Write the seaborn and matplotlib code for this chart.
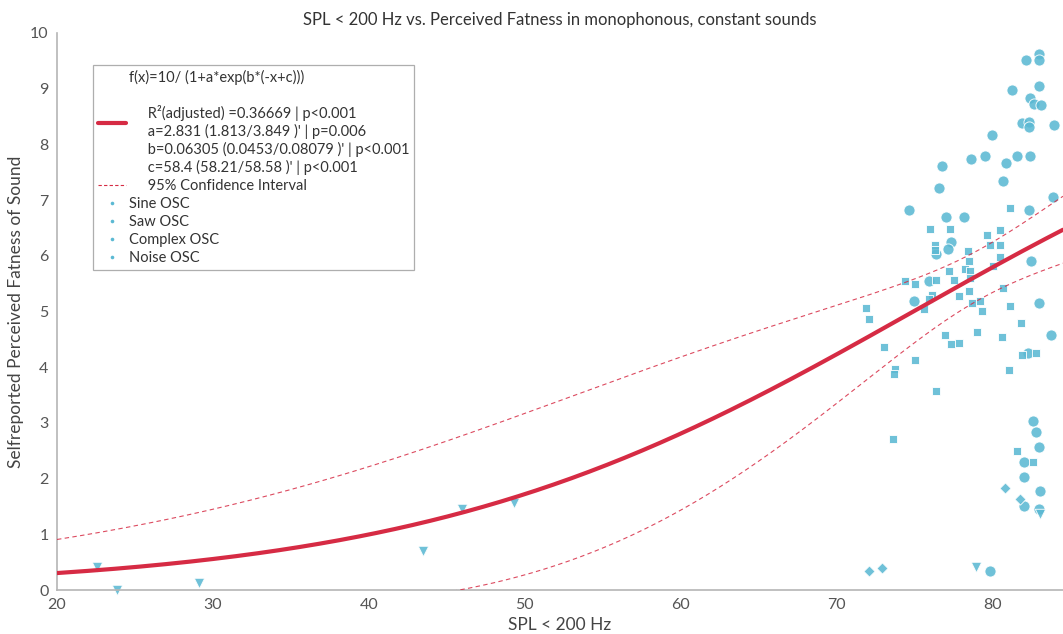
import numpy as np
import pandas as pd
import matplotlib
matplotlib.use("Agg")
import matplotlib.pyplot as plt
from matplotlib.lines import Line2D
import seaborn as sns

# Logistic fit  f(x) = 10 / (1 + a*exp(b*(-x + c)))
fit_a = 2.831
fit_b = 0.06305
fit_c = 58.4
# Standard error of the linear predictor u = ln(a) + b*(c - x),
# se_u(x) = sqrt(se_u_min^2 + (se_u_slope * (x - se_u_center))^2)
se_u_min = 0.093
se_u_slope = 0.0176
se_u_center = 79.0
t_crit = 1.96

# Measurements: SPL below 200 Hz (dB) and self-reported fatness
sine_spl = [82.95, 82.95, 82.12, 82.95, 81.20, 82.40, 82.63, 83.12, 81.88, 82.35,
            82.35, 83.90, 79.96, 76.75, 78.59, 79.49, 80.83, 81.56, 82.37, 80.68,
            76.52, 83.87, 74.64, 77.00, 78.16, 82.35, 77.29, 77.10, 76.35, 82.44,
            75.90, 74.96, 82.97, 83.72, 82.26, 82.55, 82.78, 82.95, 82.00, 82.00,
            83.05, 82.00, 82.97, 79.79]
sine_fat = [9.62, 9.52, 9.51, 9.05, 8.97, 8.84, 8.73, 8.70, 8.38, 8.40,
            8.32, 8.35, 8.17, 7.62, 7.73, 7.79, 7.67, 7.79, 7.79, 7.35,
            7.21, 7.06, 6.82, 6.70, 6.70, 6.83, 6.25, 6.12, 6.03, 5.90,
            5.55, 5.19, 5.16, 4.57, 4.25, 3.03, 2.84, 2.57, 2.29, 2.02,
            1.77, 1.50, 1.45, 0.34]

saw_spl = [81.11, 75.96, 77.24, 79.63, 80.49, 79.79, 80.49, 80.49, 76.28, 76.28,
           78.44, 78.46, 79.98, 77.18, 78.21, 78.53, 78.53, 74.38, 75.02, 76.35,
           77.52, 80.66, 76.13, 75.90, 77.84, 78.46, 78.68, 79.15, 75.60, 71.88,
           72.03, 79.28, 81.07, 81.81, 76.94, 78.97, 80.58, 73.01, 77.31, 77.84,
           75.04, 81.84, 82.80, 73.72, 73.67, 81.03, 76.35, 73.59, 81.58, 82.55]
saw_fat = [6.86, 6.48, 6.48, 6.38, 6.46, 6.19, 6.19, 5.98, 6.20, 6.10,
           6.09, 5.90, 5.82, 5.73, 5.76, 5.73, 5.61, 5.54, 5.49, 5.57,
           5.57, 5.43, 5.30, 5.22, 5.28, 5.36, 5.16, 5.19, 5.04, 5.06,
           4.87, 5.01, 5.09, 4.79, 4.57, 4.63, 4.55, 4.36, 4.41, 4.44,
           4.13, 4.22, 4.25, 3.97, 3.87, 3.95, 3.57, 2.71, 2.50, 2.30]

complex_spl = [80.75, 81.73, 72.05, 72.88]
complex_fat = [1.83, 1.63, 0.34, 0.40]

noise_spl = [22.54, 23.85, 29.12, 43.44, 45.94, 49.31, 78.89, 83.00]
noise_fat = [0.42, 0.00, 0.13, 0.70, 1.45, 1.57, 0.41, 1.36]

series_names = ["Sine OSC", "Saw OSC", "Complex OSC", "Noise OSC"]
x_ticks = [20, 30, 40, 50, 60, 70, 80]
y_ticks = [0, 1, 2, 3, 4, 5, 6, 7, 8, 9, 10]

title = "SPL < 200 Hz vs. Perceived Fatness in monophonous, constant sounds"
x_label = "SPL < 200 Hz"
y_label = "Selfreported Perceived Fatness of Sound"
fit_label = ("f(x)=10/ (1+a*exp(b*(-x+c)))\n\n"
             "     R\u00b2(adjusted) =0.36669 | p<0.001\n"
             "     a=2.831 (1.813/3.849 )' | p=0.006\n"
             "     b=0.06305 (0.0453/0.08079 )' | p<0.001\n"
             "     c=58.4 (58.21/58.58 )' | p<0.001")
ci_label = "     95% Confidence Interval"

point_color = "#5bb9d3"
fit_color = "#d62b44"
text_color = "#444444"
axis_color = "#b5b5b5"

sns.set_theme(style="white")
plt.rcParams["font.family"] = ["Lato", "DejaVu Sans"]

df = pd.concat([
    pd.DataFrame({"spl": sine_spl, "fat": sine_fat, "osc": series_names[0]}),
    pd.DataFrame({"spl": saw_spl, "fat": saw_fat, "osc": series_names[1]}),
    pd.DataFrame({"spl": complex_spl, "fat": complex_fat, "osc": series_names[2]}),
    pd.DataFrame({"spl": noise_spl, "fat": noise_fat, "osc": series_names[3]}),
], ignore_index=True)

markers = {"Sine OSC": "o", "Saw OSC": "s", "Complex OSC": "D", "Noise OSC": "v"}
sizes = {"Sine OSC": 64, "Saw OSC": 38, "Complex OSC": 32, "Noise OSC": 56}

fig = plt.figure(figsize=(10.63, 6.34), dpi=100)
ax = fig.add_axes([57 / 1063, 44 / 634, 1006 / 1063, 557 / 634])

for name in series_names:
    sub = df[df["osc"] == name]
    sns.scatterplot(data=sub, x="spl", y="fat", marker=markers[name],
                    s=sizes[name], color=point_color, edgecolor="white",
                    linewidth=0.7, alpha=0.88, legend=False, ax=ax,
                    clip_on=False, zorder=2)

# fitted curve and its 95% confidence band (delta method on the linear predictor)
xs = np.linspace(20, 84.5, 400)
g = fit_a * np.exp(fit_b * (-xs + fit_c))
fx = 10.0 / (1.0 + g)
se_u = np.sqrt(se_u_min ** 2 + (se_u_slope * (xs - se_u_center)) ** 2)
half = t_crit * fx * (1.0 - fx / 10.0) * se_u

sns.lineplot(x=xs, y=fx, color=fit_color, linewidth=3.0, ax=ax, zorder=4,
             sort=False)
for band in (fx + half, fx - half):
    sns.lineplot(x=xs, y=band, color=fit_color, linewidth=0.8, alpha=0.85,
                 linestyle=(0, (4, 3)), ax=ax, zorder=3, sort=False)

ax.set_xlim(20, 84.5)
ax.set_ylim(0, 10)
ax.set_xticks(x_ticks)
ax.set_yticks(y_ticks)
ax.set_xticklabels([str(t) for t in x_ticks])
ax.set_yticklabels([str(t) for t in y_ticks])

for side in ("top", "right"):
    ax.spines[side].set_visible(False)
for side in ("left", "bottom"):
    ax.spines[side].set_color(axis_color)
    ax.spines[side].set_linewidth(1.2)

ax.tick_params(axis="both", direction="in", length=7, width=1.0,
               color=axis_color, labelcolor="#555555", labelsize=11.5, pad=6)

ax.set_title(title, fontsize=12, color="#333333", pad=6)
ax.set_xlabel(x_label, fontsize=12.5, color=text_color, labelpad=3)
ax.set_ylabel(y_label, fontsize=12.5, color=text_color, labelpad=4)

handles = [
    Line2D([], [], color=fit_color, linewidth=3.0),
    Line2D([], [], color=fit_color, linewidth=0.8, linestyle=(0, (3, 2))),
]
labels = [fit_label, ci_label]
for name in series_names:
    handles.append(Line2D([], [], linestyle="none", marker="o", markersize=2.6,
                          markerfacecolor=point_color, markeredgecolor="none"))
    labels.append(name)

leg = ax.legend(handles, labels, loc="upper left",
                bbox_to_anchor=(36 / 1006, (590 - 65) / 557),
                borderaxespad=0, frameon=True, fancybox=False,
                fontsize=10.5, handlelength=1.9, handletextpad=0.2,
                borderpad=0.35, labelspacing=0.27)
leg.get_frame().set_edgecolor("#9a9a9a")
leg.get_frame().set_linewidth(0.9)
for t in leg.get_texts():
    t.set_color("#333333")
    t.set_linespacing(1.25)

fig.savefig("out.png", dpi=100, facecolor="white")
